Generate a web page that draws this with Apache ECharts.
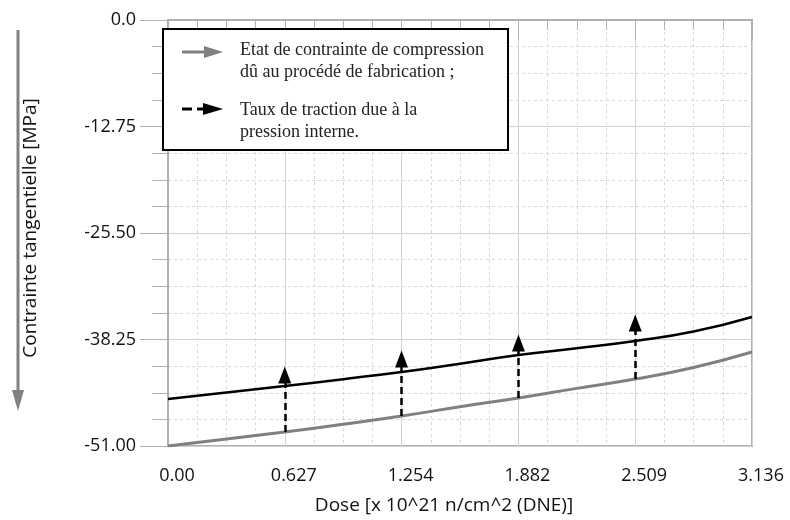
<!DOCTYPE html>
<html><head><meta charset="utf-8">
<script src="https://cdn.jsdelivr.net/npm/echarts@6/dist/echarts.min.js"></script>
<style>html,body{margin:0;padding:0;background:#fff}#c{width:790px;height:520px}</style>
</head><body><div id="c"></div>
<script>
// ---- data ----
const dose = [0, 0.314, 0.627, 0.941, 1.254, 1.568, 1.882, 2.195, 2.509, 2.822, 3.136];
const compressionStress = [-51.0, -50.15, -49.32, -48.4, -47.41, -46.3, -45.25, -44.1, -42.98, -41.6, -39.75];
const withInternalPressure = [-45.37, -44.6, -43.82, -43.0, -42.14, -41.15, -40.11, -39.3, -38.43, -37.3, -35.56];
const arrowDose = [0.627, 1.254, 1.882, 2.509];
const arrowBase = [-49.32, -47.41, -45.25, -42.98];
const arrowHead = [-42.5, -40.58, -38.67, -36.27];
const xTickLabels = ['0.00', '0.627', '1.254', '1.882', '2.509', '3.136'];
const yTickLabels = ['0.0', '-12.75', '-25.50', '-38.25', '-51.00'];
const legendText1 = ['Etat de contrainte de compression', 'dû au procédé de fabrication ;'];
const legendText2 = ['Taux de traction due à la', 'pression interne.'];
const xTitle = 'Dose [x 10^21 n/cm^2 (DNE)]';
const yTitle = 'Contrainte tangentielle [MPa]';

const xStep = 3.136 / 5;
const yStep = 12.75;

const chart = echarts.init(document.getElementById('c'), null, {renderer: 'canvas'});
const sans = '"Open Sans", sans-serif';
const serif = '"Liberation Serif", "Times New Roman", serif';
const axisGray = '#b0b0b0';

const option = {
  animation: false,
  backgroundColor: '#fff',
  grid: {left: 168, right: 38, top: 20, bottom: 74, show: true, borderColor: axisGray, borderWidth: 2, outerBoundsMode: 'none'},
  xAxis: {
    type: 'value', min: 0, max: 3.136, interval: xStep,
    name: xTitle, nameLocation: 'middle', nameGap: 50,
    nameTextStyle: {fontFamily: sans, fontSize: 19, color: '#111', padding: [0, 32, 0, 0]},
    axisLine: {show: true, lineStyle: {color: axisGray, width: 2}},
    axisTick: {show: true, length: 20, lineStyle: {color: axisGray}},
    minorTick: {show: true, splitNumber: 4, length: 10, lineStyle: {color: axisGray}},
    splitLine: {show: true, lineStyle: {color: '#d2d2d2', width: 1}},
    minorSplitLine: {show: true, lineStyle: {color: '#d8d8d8', width: 1, type: [3, 3]}},
    axisLabel: {
      margin: 21, fontFamily: sans, fontSize: 18, color: '#111', padding: [0, 0, 0, 18],
      showMinLabel: true, showMaxLabel: true,
      formatter: v => xTickLabels[Math.round(v / xStep)]
    }
  },
  yAxis: {
    type: 'value', min: -51, max: 0, interval: yStep,
    name: yTitle, nameLocation: 'middle', nameGap: 128, nameRotate: 90,
    nameTextStyle: {fontFamily: sans, fontSize: 19, color: '#111', padding: [0, 0, 0, 10]},
    axisLine: {show: true, lineStyle: {color: axisGray, width: 2}},
    axisTick: {show: true, length: 28, lineStyle: {color: axisGray}},
    minorTick: {show: true, splitNumber: 4, length: 16, lineStyle: {color: axisGray}},
    splitLine: {show: true, lineStyle: {color: '#d2d2d2', width: 1}},
    minorSplitLine: {show: true, lineStyle: {color: '#d8d8d8', width: 1, type: [3, 3]}},
    axisLabel: {
      margin: 32, fontFamily: sans, fontSize: 18, color: '#111',
      showMinLabel: true, showMaxLabel: true,
      formatter: v => yTickLabels[Math.round(-v / yStep)]
    }
  },
  series: [
    {
      type: 'line', name: 'compression', smooth: true, symbol: 'none',
      data: dose.map((d, i) => [d, compressionStress[i]]),
      lineStyle: {color: '#808080', width: 3}, z: 3
    },
    {
      type: 'line', name: 'traction', smooth: true, symbol: 'none',
      data: dose.map((d, i) => [d, withInternalPressure[i]]),
      lineStyle: {color: '#000', width: 2.5}, z: 4,
      markLine: {
        silent: true, animation: false,
        symbol: ['none', 'triangle'], symbolSize: [13, 17],
        label: {show: false},
        lineStyle: {color: '#000', width: 2.5, type: [7, 4]},
        emphasis: {disabled: true},
        data: arrowDose.map((d, i) => [{coord: [d, arrowBase[i]]}, {coord: [d, arrowHead[i]]}])
      }
    }
  ],
  graphic: [
    // y-axis direction arrow
    {type: 'line', shape: {x1: 18, y1: 30, x2: 18, y2: 392}, style: {stroke: '#808080', lineWidth: 3}},
    {type: 'polygon', shape: {points: [[12, 390], [24, 390], [18, 411]]}, style: {fill: '#808080'}},
    // legend box
    {type: 'rect', shape: {x: 163, y: 29, width: 345, height: 121}, style: {fill: '#fff', stroke: '#000', lineWidth: 2}, z: 10},
    {type: 'line', shape: {x1: 182, y1: 52, x2: 208, y2: 52}, style: {stroke: '#808080', lineWidth: 3}, z: 11},
    {type: 'polygon', shape: {points: [[204, 46], [223, 52], [204, 58]]}, style: {fill: '#808080'}, z: 11},
    {type: 'line', shape: {x1: 182, y1: 109, x2: 192, y2: 109}, style: {stroke: '#000', lineWidth: 3}, z: 11},
    {type: 'line', shape: {x1: 197, y1: 109, x2: 206, y2: 109}, style: {stroke: '#000', lineWidth: 3}, z: 11},
    {type: 'polygon', shape: {points: [[203, 103], [223, 109], [203, 115]]}, style: {fill: '#000'}, z: 11},
    {type: 'text', x: 240, y: 50, style: {text: legendText1[0], font: '18px ' + serif, fill: '#222', textVerticalAlign: 'middle'}, z: 11},
    {type: 'text', x: 240, y: 72, style: {text: legendText1[1], font: '18px ' + serif, fill: '#222', textVerticalAlign: 'middle'}, z: 11},
    {type: 'text', x: 240, y: 110, style: {text: legendText2[0], font: '18px ' + serif, fill: '#222', textVerticalAlign: 'middle'}, z: 11},
    {type: 'text', x: 240, y: 132, style: {text: legendText2[1], font: '18px ' + serif, fill: '#222', textVerticalAlign: 'middle'}, z: 11}
  ]
};
chart.setOption(option);
</script>
</body></html>
